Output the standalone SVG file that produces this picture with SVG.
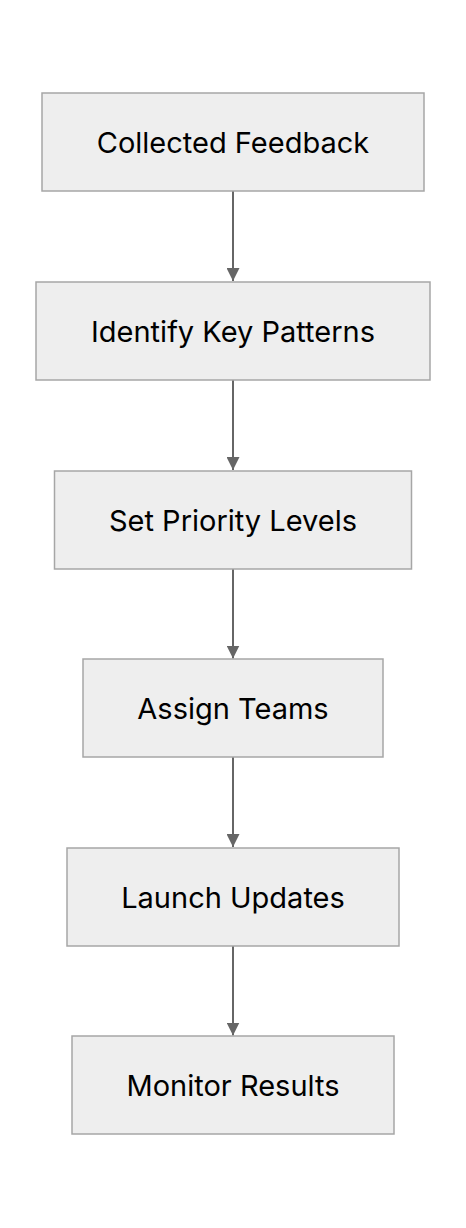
<svg xmlns="http://www.w3.org/2000/svg" width="466" height="1228" viewBox="0 0 466 1228">
<style>
.node rect{fill:#eeeeee;stroke:#a6a6a6;stroke-width:1.5}
.node text{font-family:Inter,"Noto Sans",sans-serif;font-size:29px;fill:#000;text-anchor:middle;dominant-baseline:central}
.edge{stroke:#666666;stroke-width:2;fill:none}
</style>
<defs>
<marker id="arr" viewBox="0 0 10 10" refX="10" refY="5" markerWidth="6.5" markerHeight="6.5" markerUnits="strokeWidth" orient="auto">
<path d="M0,0 L10,5 L0,10 Z" fill="#666666"/>
</marker>
</defs>
<rect width="466" height="1228" fill="#ffffff"/>
<g id="connectors">
<line class="edge" x1="233" y1="191" x2="233" y2="281" marker-end="url(#arr)"/>
<line class="edge" x1="233" y1="380" x2="233" y2="470" marker-end="url(#arr)"/>
<line class="edge" x1="233" y1="569" x2="233" y2="658.5" marker-end="url(#arr)"/>
<line class="edge" x1="233" y1="757" x2="233" y2="847" marker-end="url(#arr)"/>
<line class="edge" x1="233" y1="946" x2="233" y2="1035.5" marker-end="url(#arr)"/>
</g>
<g id="n1" class="node"><rect x="42" y="93" width="382" height="98"/><text x="233" y="142">Collected Feedback</text></g>
<g id="n2" class="node"><rect x="36" y="282" width="394" height="98"/><text x="233" y="331">Identify Key Patterns</text></g>
<g id="n3" class="node"><rect x="54.5" y="471" width="357" height="98"/><text x="233" y="520">Set Priority Levels</text></g>
<g id="n4" class="node"><rect x="83" y="659" width="300" height="98"/><text x="233" y="708">Assign Teams</text></g>
<g id="n5" class="node"><rect x="67" y="848" width="332" height="98"/><text x="233" y="897">Launch Updates</text></g>
<g id="n6" class="node"><rect x="72" y="1036" width="322" height="98"/><text x="233" y="1085">Monitor Results</text></g>
</svg>
